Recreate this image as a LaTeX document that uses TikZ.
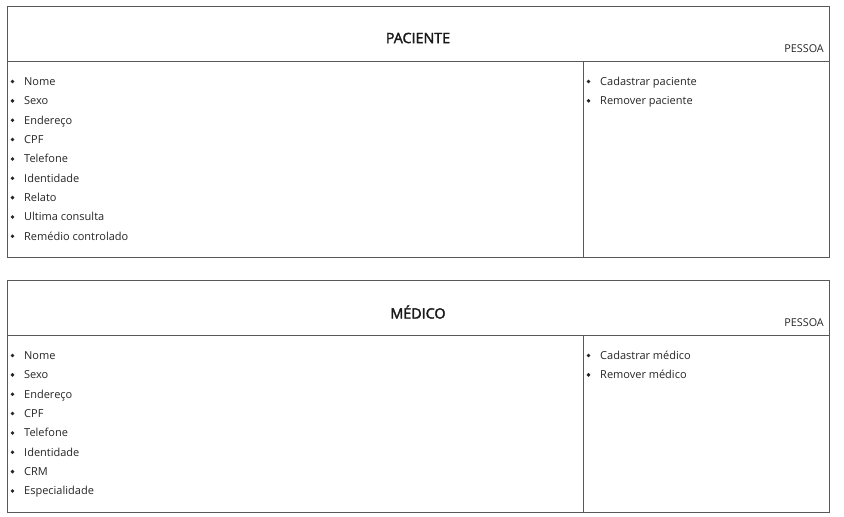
\documentclass[tikz,border=0pt]{standalone}
\usepackage{fontspec}
\setmainfont{Open Sans}
\newfontfamily\semib[FakeBold=2]{Open Sans}
\begin{document}
\begin{tikzpicture}[x=1pt,y=-1pt,
  frame/.style={draw=black!65, line width=1pt},
  title/.style={font=\fontsize{14.3}{16}\selectfont\semib, text=black!90, inner sep=0},
  tag/.style={font=\fontsize{10.8}{12}\selectfont, text=black!85, inner sep=0, anchor=base east},
  item/.style={font=\fontsize{11}{13}\selectfont, text=black!85, inner sep=0, anchor=base west},
  dot/.style={circle, fill=black!85, inner sep=0, minimum size=3.8pt}]
\useasboundingbox (0,0) rectangle (844,517);
\fill[white] (0,0) rectangle (844,517);
% Box 1
\node[frame, anchor=north west, minimum width=822pt, minimum height=251pt, inner sep=0] (b1) at (7,6) {};
\coordinate (h1l) at (7,61); \coordinate (h1r) at (829,61);
\coordinate (d1t) at (583,61); \coordinate (d1b) at (583,257);
\draw[frame] (h1l) -- (h1r);
\draw[frame] (d1t) -- (d1b);
\node[title] (t1) at (418,38) {PACIENTE};
\node[tag] (p1) at (824,52.5) {PESSOA};
\foreach \t [count=\i from 0] in {Nome,Sexo,Endereço,CPF,Telefone,Identidade,Relato,Ultima consulta,Remédio controlado}{
  \node[dot] (bd\i) at (12.5,81.5+19.35*\i) {};
  \node[item] (a\i) at (24,85.5+19.35*\i) {\t};
}
\foreach \t [count=\i from 0] in {Cadastrar paciente,Remover paciente}{
  \node[dot] (cd\i) at (588.5,81.5+19.35*\i) {};
  \node[item] (c\i) at (600,85.5+19.35*\i) {\t};
}
% Box 2
\node[frame, anchor=north west, minimum width=822pt, minimum height=232pt, inner sep=0] (b2) at (7,280) {};
\coordinate (h2l) at (7,335); \coordinate (h2r) at (829,335);
\coordinate (d2t) at (583,335); \coordinate (d2b) at (583,512);
\draw[frame] (h2l) -- (h2r);
\draw[frame] (d2t) -- (d2b);
\node[title] (t2) at (418,312) {MÉDICO};
\node[tag] (p2) at (824,326.5) {PESSOA};
\foreach \t [count=\i from 0] in {Nome,Sexo,Endereço,CPF,Telefone,Identidade,CRM,Especialidade}{
  \node[dot] (ed\i) at (12.5,355.5+19.35*\i) {};
  \node[item] (m\i) at (24,359.5+19.35*\i) {\t};
}
\foreach \t [count=\i from 0] in {Cadastrar médico,Remover médico}{
  \node[dot] (fd\i) at (588.5,355.5+19.35*\i) {};
  \node[item] (f\i) at (600,359.5+19.35*\i) {\t};
}
\end{tikzpicture}
\end{document}
